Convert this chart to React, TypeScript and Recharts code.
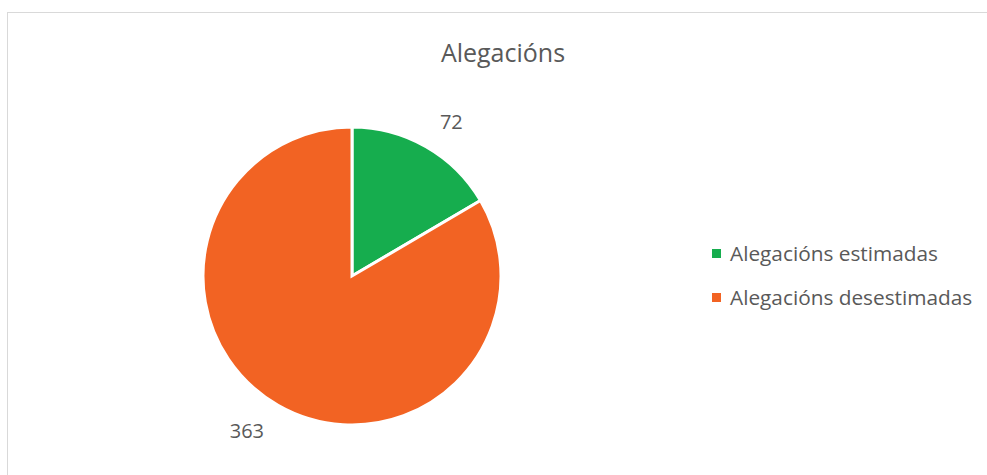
import React from 'react';
import { PieChart, Pie, Cell } from 'recharts';

// Alegacións data
const categories = ['Alegacións estimadas', 'Alegacións desestimadas'];
const values = [72, 363];
const colors = ['#16AD4E', '#F26323'];

const data = categories.map((name, i) => ({ name, value: values[i] }));

const RADIAN = Math.PI / 180;
const LABEL_SIZE = 20;

// place the value label just outside the slice edge, like an "outside end" label
const renderLabel = (props: any) => {
  const { cx, cy, midAngle, outerRadius, value } = props;
  const cos = Math.cos(-midAngle * RADIAN);
  const sin = Math.sin(-midAngle * RADIAN);
  const w = String(value).length * LABEL_SIZE * 0.572;
  const h = LABEL_SIZE * 0.8;
  const x = cx + (outerRadius + 28) * cos + Math.sign(cos) * w / 2;
  const y = cy + (outerRadius + 20) * sin + Math.sign(sin) * h / 2;
  return (
    <text x={x} y={y} fill="#595959" fontSize={LABEL_SIZE} textAnchor="middle" dominantBaseline="central">
      {value}
    </text>
  );
};

const App: React.FC = () => {
  return (
    <div style={{ position: 'absolute', left: 0, top: 0, width: 987, height: 475, overflow: 'hidden', fontFamily: '"Open Sans", sans-serif', background: '#fff' }}>
      <div style={{ position: 'absolute', left: 7, top: 12, width: 1000, height: 500, border: '1px solid #d9d9d9' }} />
      <div style={{ position: 'absolute', left: 0, top: 35, width: 1006, textAlign: 'center', fontSize: 25, color: '#595959', lineHeight: '34px' }}>
        Alegacións
      </div>
      <div style={{ position: 'absolute', left: 0, top: 0 }}>
        <PieChart width={987} height={475} margin={{ top: 0, right: 0, bottom: 0, left: 0 }}>
          <Pie
            data={data}
            dataKey="value"
            nameKey="name"
            cx={352}
            cy={276}
            outerRadius={149}
            startAngle={90}
            endAngle={-270}
            stroke="#ffffff"
            strokeWidth={3}
            label={renderLabel}
            labelLine={false}
            isAnimationActive={false}
          >
            {data.map((entry, index) => (
              <Cell key={`cell-${index}`} fill={colors[index]} />
            ))}
          </Pie>
        </PieChart>
      </div>
      <div style={{ position: 'absolute', left: 712, top: 239 }}>
        {categories.map((name, index) => (
          <div key={name} style={{ position: 'relative', height: 44, lineHeight: '28px', fontSize: 20.8, color: '#595959', whiteSpace: 'nowrap' }}>
            <span style={{ position: 'absolute', left: 0, top: 10, width: 9, height: 9, background: colors[index] }} />
            <span style={{ position: 'absolute', left: 18, top: 0 }}>{name}</span>
          </div>
        ))}
      </div>
    </div>
  );
};

export default App;
